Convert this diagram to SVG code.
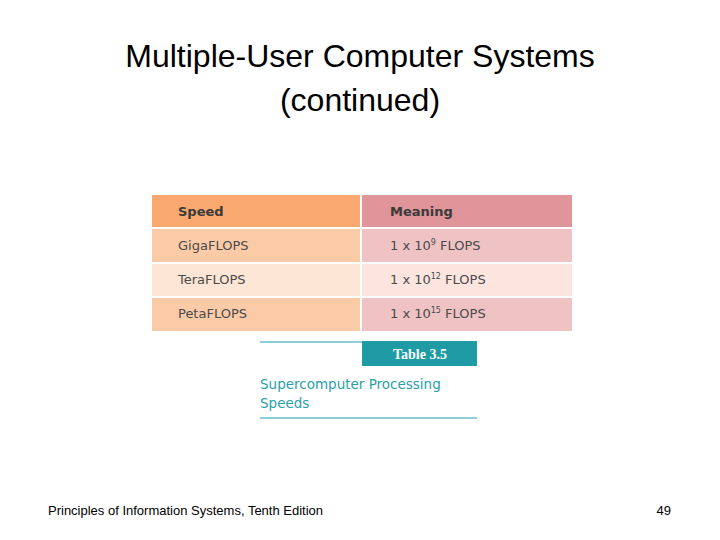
<svg xmlns="http://www.w3.org/2000/svg" width="720" height="540" viewBox="0 0 720 540">
<style>
.t{font-family:"Liberation Sans",Arial,sans-serif;fill:#000}
.c{font-family:"DejaVu Sans",sans-serif;font-size:13px;fill:#4a4a4a}
.h{font-weight:bold;fill:#3a3a3a}
</style>
<rect width="720" height="540" fill="#fff"/>
<text class="t" x="360" y="67" font-size="32" text-anchor="middle">Multiple-User Computer Systems</text>
<text class="t" x="360" y="111" font-size="32" text-anchor="middle">(continued)</text>
<g id="table">
<rect x="152" y="195" width="208" height="32" fill="#F9A870"/>
<rect x="362" y="195" width="210" height="32" fill="#E0959A"/>
<rect x="152" y="229" width="208" height="33" fill="#FBCBA8"/>
<rect x="362" y="229" width="210" height="33" fill="#EFC3C3"/>
<rect x="152" y="264" width="208" height="32" fill="#FDE6D5"/>
<rect x="362" y="264" width="210" height="32" fill="#FCE4DF"/>
<rect x="152" y="298" width="208" height="33" fill="#FBCBA8"/>
<rect x="362" y="298" width="210" height="33" fill="#EFC3C3"/>
<text class="c h" x="178" y="216">Speed</text>
<text class="c h" x="390" y="216">Meaning</text>
<text class="c" x="178" y="250">GigaFLOPS</text>
<text class="c" x="178" y="284">TeraFLOPS</text>
<text class="c" x="178" y="318">PetaFLOPS</text>
<text class="c" x="390" y="250">1 x 10<tspan font-size="8" dy="-5">9</tspan><tspan dy="5"> FLOPS</tspan></text>
<text class="c" x="390" y="284">1 x 10<tspan font-size="8" dy="-5">12</tspan><tspan dy="5"> FLOPS</tspan></text>
<text class="c" x="390" y="318">1 x 10<tspan font-size="8" dy="-5">15</tspan><tspan dy="5"> FLOPS</tspan></text>
</g>
<g id="caption">
<line x1="260" y1="342" x2="362" y2="342" stroke="#1E9BA5" stroke-width="1"/>
<rect x="362" y="341" width="115" height="25" fill="#1E9BA5"/>
<text x="420" y="359" font-family="Liberation Serif,serif" font-size="14" font-weight="bold" fill="#fff" text-anchor="middle">Table 3.5</text>
<text x="260" y="389" font-family="DejaVu Sans,sans-serif" font-size="13.5" fill="#2A9FA8">Supercomputer Processing</text>
<text x="260" y="408" font-family="DejaVu Sans,sans-serif" font-size="13.5" fill="#2A9FA8">Speeds</text>
<line x1="260" y1="418" x2="477" y2="418" stroke="#1E9BA5" stroke-width="1"/>
</g>
<text class="t" x="48" y="515" font-size="13">Principles of Information Systems, Tenth Edition</text>
<text class="t" x="671" y="515" font-size="13" text-anchor="end">49</text>
</svg>
